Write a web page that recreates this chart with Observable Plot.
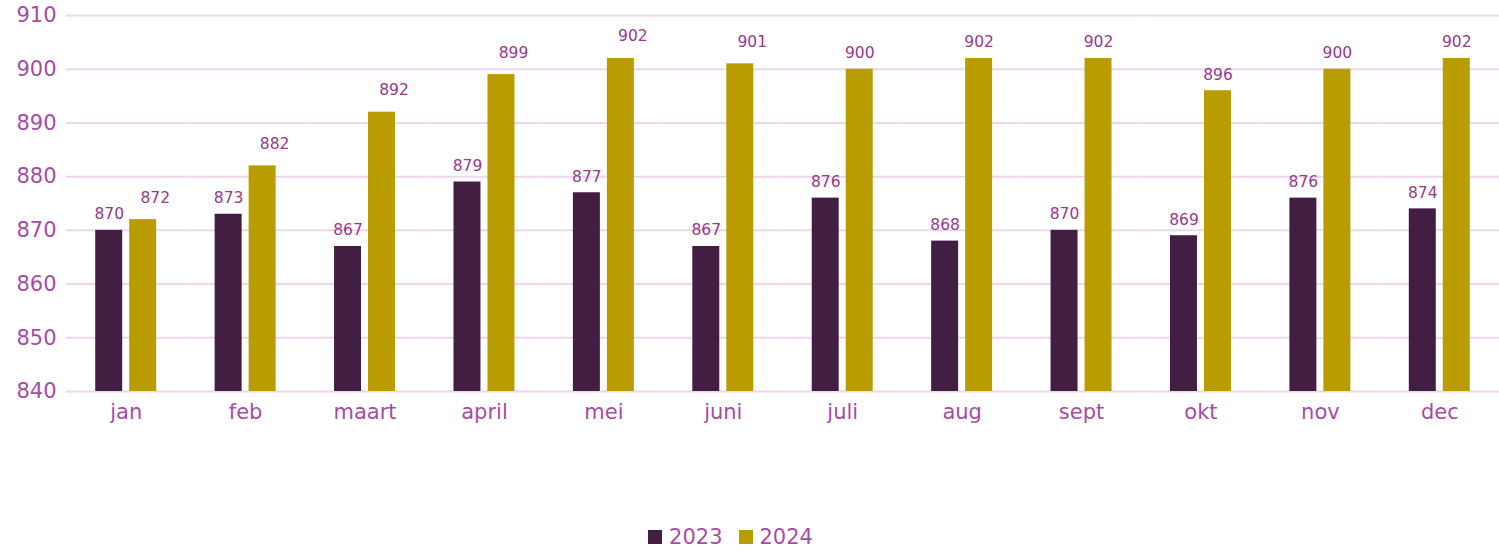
<!DOCTYPE html>
<html>
<head>
<meta charset="utf-8">
<script src="https://cdn.jsdelivr.net/npm/d3@7"></script>
<script src="https://cdn.jsdelivr.net/npm/@observablehq/plot@0.6"></script>
<style>
  body { margin: 0; background: #fff; font-family: "DejaVu Sans", sans-serif; overflow: hidden; }
  #legend { display: flex; justify-content: center; align-items: center; gap: 16px; padding-right: 38px; padding-top: 6px; height: 18px; line-height: 18px; font-size: 21px; color: #a64ca6; }
  #legend .sw { display: inline-block; width: 14px; height: 14px; margin-right: 7px; }
  #legend span.item { display: inline-flex; align-items: center; }
</style>
</head>
<body>
<div id="chart"></div>
<div id="legend"></div>
<script>
const months = ["jan","feb","maart","april","mei","juni","juli","aug","sept","okt","nov","dec"];
const years = ["2023","2024"];
const values2023 = [870,873,867,879,877,867,876,868,870,869,876,874];
const values2024 = [872,882,892,899,902,901,900,902,902,896,900,902];
const yTicks = [840,850,860,870,880,890,900,910];
const colors = ["#431e43","#b89c00"];

const data = [];
months.forEach((m, i) => {
  data.push({month: m, year: "2023", value: values2023[i], idx: i});
  data.push({month: m, year: "2024", value: values2024[i], idx: i});
});

const axisColor = "#a64ca6";
const labelColor = "#953a8c";

const plot = Plot.plot({
  width: 1499,
  height: 522,
  marginLeft: 66,
  marginRight: 0,
  marginTop: 15,
  marginBottom: 131,
  style: { fontFamily: "DejaVu Sans, sans-serif", background: "#fff" },
  fx: { domain: months, padding: 0, round: false, label: null },
  x: { domain: years, paddingInner: 0.206, paddingOuter: 0.86, round: false, axis: null },
  y: { domain: [840, 910], label: null },
  color: { domain: years, range: colors },
  marks: [
    Plot.ruleY(yTicks, { stroke: "#efd6ee", strokeWidth: 2 }),
    Plot.axisY({ ticks: yTicks, tickSize: 0, tickPadding: 10, fontSize: 21, fill: axisColor, label: null }),
    Plot.axisFx({ anchor: "bottom", tickSize: 0, tickPadding: 13, fontSize: 21, fill: axisColor, label: null }),
    Plot.barY(data, { fx: "month", x: "year", y1: () => 840, y2: "value", fill: "year" }),
    Plot.text(data.filter(d => d.year === "2023" || d.idx >= 6), {
      fx: "month", x: "year", y: "value", text: d => String(d.value),
      dy: -16, fontSize: 15.5, fill: labelColor
    }),
    Plot.text(data.filter(d => d.year === "2024" && d.idx < 6), {
      fx: "month", x: "year", y: "value", text: d => String(d.value),
      dx: 12, dy: -22, fontSize: 15.5, fill: labelColor
    })
  ]
});
document.getElementById("chart").appendChild(plot);

const legend = document.getElementById("legend");
years.forEach((y, i) => {
  const item = document.createElement("span");
  item.className = "item";
  const sw = document.createElement("span");
  sw.className = "sw";
  sw.style.background = colors[i];
  item.appendChild(sw);
  item.appendChild(document.createTextNode(y));
  legend.appendChild(item);
});
</script>
</body>
</html>
